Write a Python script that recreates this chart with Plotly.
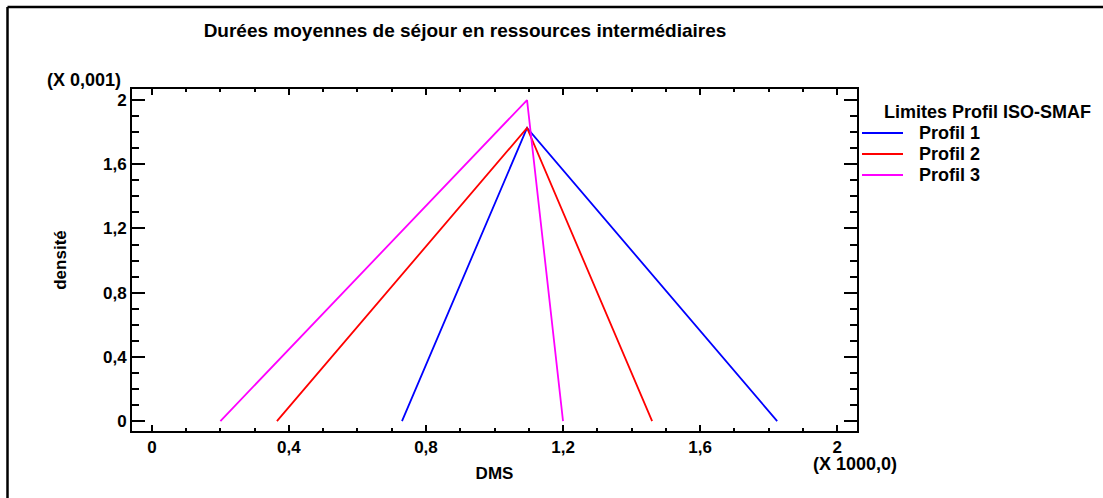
import plotly.graph_objects as go

# DMS (X 1000,0) et densité (X 0,001) : bornes min / mode / max de chaque profil
profils = ["Profil 1", "Profil 2", "Profil 3"]
dms_p1 = [0.73, 1.095, 1.825]
dens_p1 = [0, 1.826, 0]
dms_p2 = [0.365, 1.095, 1.46]
dens_p2 = [0, 1.826, 0]
dms_p3 = [0.2, 1.095, 1.2]
dens_p3 = [0, 2.0, 0]

couleurs = ["#0000ff", "#ff0000", "#ff00ff"]
FONT = "Liberation Sans, Arial, sans-serif"

W, H = 1103, 498
L, R, T, B = 132, 246, 89, 67


def px_x(p):
    return (p - L) / (W - L - R)


def px_y(p):
    return (H - B - p) / (H - T - B)


def police(size):
    return dict(family=FONT, size=size, color="black", weight="bold")


fig = go.Figure()
for nom, xs, ys, c in zip(profils, [dms_p1, dms_p2, dms_p3], [dens_p1, dens_p2, dens_p3], couleurs):
    fig.add_trace(go.Scatter(x=xs, y=ys, mode="lines", name=nom,
                             line=dict(color=c, width=1.8)))

axe = dict(showgrid=False, zeroline=False, showline=True, linecolor="black", linewidth=2,
           mirror="ticks", ticks="inside", tickcolor="black", tickwidth=1.5,
           tickfont=police(17))

fig.update_xaxes(**axe, range=[-0.058, 2.058], tick0=0, dtick=0.4, ticklen=6,
                 minor=dict(dtick=0.1, ticklen=3, ticks="inside", tickcolor="black", tickwidth=1.5),
                 title=dict(text="DMS", standoff=11, font=police(17)))
fig.update_yaxes(**axe, range=[-0.062, 2.069], tick0=0, dtick=0.4, ticklen=13,
                 minor=dict(dtick=0.1, ticklen=7, ticks="inside", tickcolor="black", tickwidth=1.5),
                 title=dict(text="densité", standoff=32, font=police(17)))

# cadre extérieur (coupé à droite et en bas)
fig.add_shape(type="line", xref="paper", yref="paper", x0=px_x(7.5), x1=px_x(1110),
              y0=px_y(7), y1=px_y(7), line=dict(color="black", width=2.5))
fig.add_shape(type="line", xref="paper", yref="paper", x0=px_x(7.5), x1=px_x(7.5),
              y0=px_y(7), y1=px_y(510), line=dict(color="black", width=2.5))

fig.add_annotation(xref="paper", yref="paper", x=px_x(123), y=px_y(80), text="(X 0,001)",
                   showarrow=False, xanchor="right", yanchor="middle", font=police(18))
fig.add_annotation(xref="paper", yref="paper", x=px_x(811), y=px_y(464), text="(X 1000,0)",
                   showarrow=False, xanchor="left", yanchor="middle", font=police(18))

# légende dessinée à la main (espacement serré comme l'original)
fig.add_annotation(xref="paper", yref="paper", x=px_x(882), y=px_y(112),
                   text="Limites Profil ISO-SMAF", showarrow=False,
                   xanchor="left", yanchor="middle", font=police(18))
for i, (nom, c) in enumerate(zip(profils, couleurs)):
    yy = px_y(133 + 21 * i)
    fig.add_shape(type="line", xref="paper", yref="paper", x0=px_x(862), x1=px_x(903),
                  y0=yy, y1=yy, line=dict(color=c, width=1.8))
    fig.add_annotation(xref="paper", yref="paper", x=px_x(917), y=yy, text=nom,
                       showarrow=False, xanchor="left", yanchor="middle", font=police(18))

fig.update_layout(
    width=W, height=H, separators=", ",
    margin=dict(l=L, r=R, t=T, b=B),
    paper_bgcolor="white", plot_bgcolor="white",
    title=dict(text="Durées moyennes de séjour en ressources intermédiaires",
               xref="container", x=465 / W, xanchor="center",
               yref="container", y=1 - 30 / H, yanchor="middle",
               font=police(19)),
    showlegend=False,
)

fig.write_html("out.html", config={"displayModeBar": False},
               post_script="document.body.style.margin='0px';document.body.style.overflow='hidden';")
